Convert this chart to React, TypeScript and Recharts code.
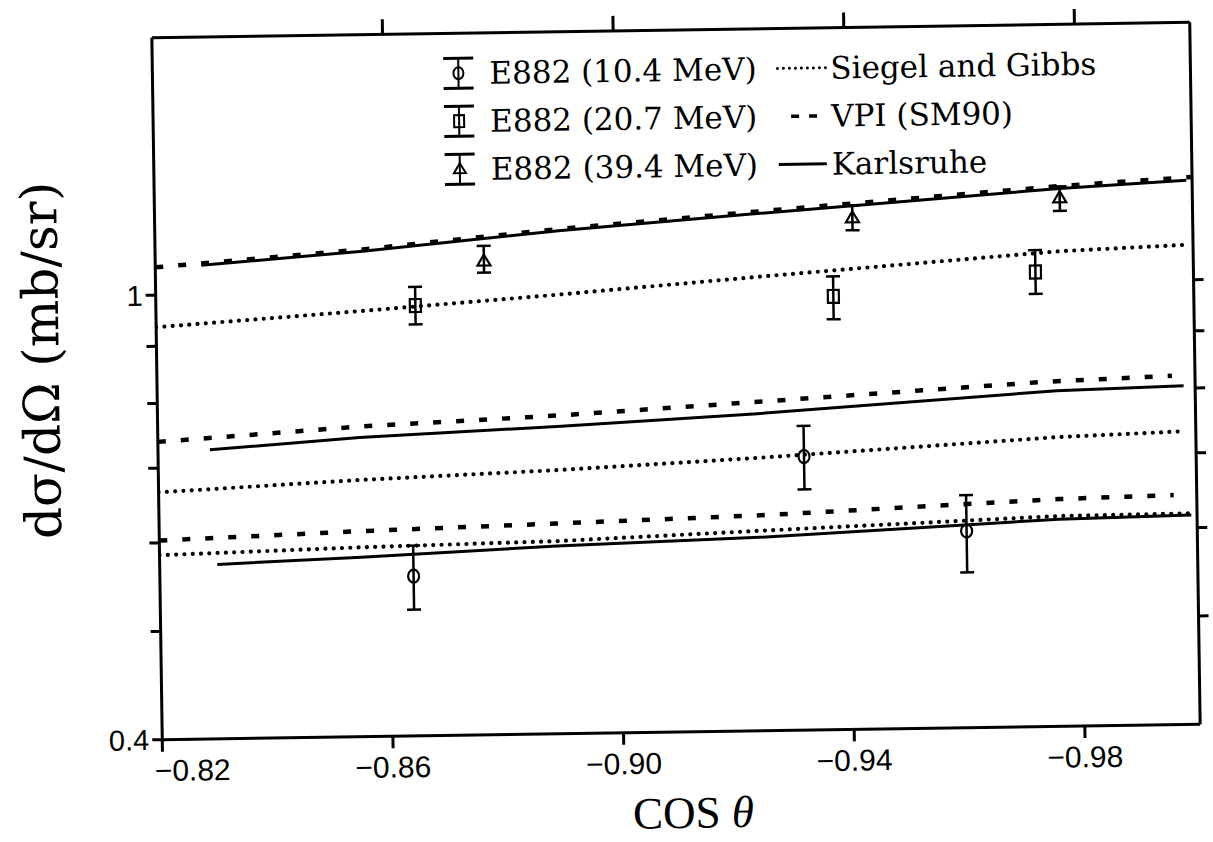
import React from 'react';
import {
  ComposedChart,
  Line,
  Scatter,
  ErrorBar,
  XAxis,
  YAxis,
  Legend
} from 'recharts';

// theory curves (cos theta, dsigma/dOmega in mb/sr)
const upperVpiX = [-0.82, -0.856, -0.89, -0.925, -0.977, -1.0];
const upperVpiY = [1.059, 1.092, 1.132, 1.167, 1.218, 1.236];
const upperKarlsruheX = [-0.828, -0.856, -0.89, -0.925, -0.977, -0.999];
const upperKarlsruheY = [1.062, 1.088, 1.128, 1.162, 1.212, 1.228];
const upperSiegelX = [-0.82, -0.856, -0.89, -0.925, -0.977, -0.999];
const upperSiegelY = [0.936, 0.962, 0.989, 1.02, 1.065, 1.075];

const middleVpiX = [-0.82, -0.855, -0.89, -0.926, -0.974, -0.996];
const middleVpiY = [0.739, 0.758, 0.771, 0.789, 0.814, 0.821];
const middleKarlsruheX = [-0.829, -0.855, -0.89, -0.924, -0.976, -0.998];
const middleKarlsruheY = [0.726, 0.741, 0.754, 0.769, 0.799, 0.804];
const middleSiegelX = [-0.82, -0.855, -0.89, -0.924, -0.976, -0.998];
const middleSiegelY = [0.666, 0.679, 0.689, 0.702, 0.726, 0.732];

const lowerVpiX = [-0.82, -0.855, -0.889, -0.926, -0.976, -0.996];
const lowerVpiY = [0.603, 0.611, 0.617, 0.624, 0.639, 0.642];
const lowerSiegelX = [-0.82, -0.855, -0.889, -0.924, -0.976, -0.999];
const lowerSiegelY = [0.585, 0.591, 0.595, 0.604, 0.617, 0.618];
const lowerKarlsruheX = [-0.83, -0.855, -0.889, -0.924, -0.976, -0.999];
const lowerKarlsruheY = [0.573, 0.579, 0.589, 0.596, 0.613, 0.616];

// E882 measurements with error bar ends
const e104X = [-0.864, -0.932, -0.96];
const e104Y = [0.556, 0.703, 0.6];
const e104Lo = [0.519, 0.657, 0.551];
const e104Hi = [0.592, 0.749, 0.646];

const e207X = [-0.865, -0.9375, -0.9726];
const e207Y = [0.971, 0.977, 1.021];
const e207Lo = [0.934, 0.932, 0.976];
const e207Hi = [1.009, 1.018, 1.068];

const e394X = [-0.877, -0.941, -0.977];
const e394Y = [1.061, 1.147, 1.188];
const e394Lo = [1.037, 1.119, 1.157];
const e394Hi = [1.096, 1.178, 1.217];

const xTicks = [-0.82, -0.86, -0.9, -0.94, -0.98];
const topTicks = [-0.86, -0.9, -0.94, -0.98];
const yTicks = [0.4, 0.5, 0.6, 0.7, 0.8, 0.9, 1];
const rightTicks = [0.5, 0.6, 0.7, 0.8, 0.9, 1];
const yLabelled = [0.4, 1];

const dataLegend = ['E882 (10.4 MeV)', 'E882 (20.7 MeV)', 'E882 (39.4 MeV)'];
const modelLegend = ['Siegel and Gibbs', 'VPI (SM90)', 'Karlsruhe'];

const serif = "'DejaVu Serif', serif";
const sans = "'Liberation Sans', Arial, sans-serif";

const toCurve = (xs: number[], ys: number[]) => xs.map((x, i) => ({ x, y: ys[i] }));
const toPoints = (xs: number[], ys: number[], lo: number[], hi: number[]) =>
  xs.map((x, i) => ({ x, y: ys[i], err: [ys[i] - lo[i], hi[i] - ys[i]] }));

const DOTTED = { strokeWidth: 4.2, strokeDasharray: '0 8.3', strokeLinecap: 'round' as const };
const DASHED = { strokeWidth: 4.5, strokeDasharray: '8 15' };
const SOLID = { strokeWidth: 3 };

const curves = [
  { key: 'upVpi', data: toCurve(upperVpiX, upperVpiY), style: DASHED },
  { key: 'upKa', data: toCurve(upperKarlsruheX, upperKarlsruheY), style: SOLID },
  { key: 'upSg', data: toCurve(upperSiegelX, upperSiegelY), style: DOTTED },
  { key: 'midVpi', data: toCurve(middleVpiX, middleVpiY), style: DASHED },
  { key: 'midKa', data: toCurve(middleKarlsruheX, middleKarlsruheY), style: SOLID },
  { key: 'midSg', data: toCurve(middleSiegelX, middleSiegelY), style: DOTTED },
  { key: 'lowVpi', data: toCurve(lowerVpiX, lowerVpiY), style: DASHED },
  { key: 'lowSg', data: toCurve(lowerSiegelX, lowerSiegelY), style: DOTTED },
  { key: 'lowKa', data: toCurve(lowerKarlsruheX, lowerKarlsruheY), style: SOLID },
];

const CircleMark = ({ cx, cy }: any) => (
  <ellipse cx={cx} cy={cy} rx={5.5} ry={6.5} fill="none" stroke="#000" strokeWidth={2.2} />
);
const SquareMark = ({ cx, cy }: any) => (
  <rect x={cx - 5.5} y={cy - 6.5} width={11} height={13} fill="none" stroke="#000" strokeWidth={2.2} />
);
const TriangleMark = ({ cx, cy }: any) => (
  <polygon points={`${cx},${cy - 7} ${cx + 6.5},${cy + 4} ${cx - 6.5},${cy + 4}`} fill="none" stroke="#000" strokeWidth={2.2} />
);

const markShapes = [CircleMark, SquareMark, TriangleMark];

const XTick = ({ x, y, payload }: any) => {
  const first = payload.value === -0.82;
  return (
    <text
      x={first ? x - 8 : x}
      y={y}
      dy="0.71em"
      textAnchor={first ? 'start' : 'middle'}
      fontFamily={sans}
      fontSize={30}
      fill="#000"
    >
      {'\u2212' + Math.abs(payload.value).toFixed(2)}
    </text>
  );
};

const YTitle = ({ viewBox }: any) => {
  const cx = viewBox.x - 55;
  const cy = viewBox.y + viewBox.height / 2 - 30;
  return (
    <text
      x={cx}
      y={cy}
      transform={`rotate(-90, ${cx}, ${cy})`}
      textAnchor="middle"
      dominantBaseline="central"
      fontFamily={serif}
      fontSize={50}
      fill="#000"
    >
      dσ/dΩ (mb/sr)
    </text>
  );
};

const XTitle = ({ viewBox }: any) => {
  const cx = viewBox.x + viewBox.width / 2 + 11;
  return (
    <text x={cx} y={viewBox.y + 96} textAnchor="middle" fontFamily="'Liberation Serif', serif" fontSize={45} fill="#000">
      COS <tspan fontStyle="italic">θ</tspan>
    </text>
  );
};

const ErrIcon = ({ kind }: { kind: number }) => (
  <svg width={36} height={34}>
    <line x1={3} y1={2} x2={33} y2={2} stroke="#000" strokeWidth={3} />
    <line x1={3} y1={32} x2={33} y2={32} stroke="#000" strokeWidth={3} />
    <line x1={18} y1={2} x2={18} y2={32} stroke="#000" strokeWidth={2} />
    {kind === 0 && <ellipse cx={18} cy={17} rx={5} ry={6} fill="none" stroke="#000" strokeWidth={2} />}
    {kind === 1 && <rect x={13} y={11} width={10} height={12} fill="none" stroke="#000" strokeWidth={2} />}
    {kind === 2 && <polygon points="18,11 24,21 12,21" fill="none" stroke="#000" strokeWidth={2} />}
  </svg>
);

const LineIcon = ({ kind }: { kind: number }) => (
  <svg width={55} height={12}>
    {kind === 0 && <line x1={2} y1={6} x2={52} y2={6} stroke="#000" strokeWidth={3} strokeDasharray="0 6" strokeLinecap="round" />}
    {kind === 1 && <line x1={15} y1={6} x2={44} y2={6} stroke="#000" strokeWidth={3.5} strokeDasharray="8 10" />}
    {kind === 2 && <line x1={2} y1={6} x2={50} y2={6} stroke="#000" strokeWidth={3} />}
  </svg>
);

const LegendBox = () => (
  <div style={{ display: 'grid', gridTemplateColumns: '335px auto', fontFamily: serif, fontSize: 31, color: '#000' }}>
    {dataLegend.map((label, i) => (
      <React.Fragment key={label}>
        <div style={{ display: 'flex', alignItems: 'center', height: 48 }}>
          <ErrIcon kind={i} />
          <span style={{ marginLeft: 13, whiteSpace: 'nowrap' }}>{label}</span>
        </div>
        <div style={{ display: 'flex', alignItems: 'center', height: 48 }}>
          <LineIcon kind={i} />
          <span style={{ whiteSpace: 'nowrap' }}>{modelLegend[i]}</span>
        </div>
      </React.Fragment>
    ))}
  </div>
);

export default function App() {
  const pointSets = [
    toPoints(e104X, e104Y, e104Lo, e104Hi),
    toPoints(e207X, e207Y, e207Lo, e207Hi),
    toPoints(e394X, e394Y, e394Lo, e394Hi),
  ];

  return (
    <div style={{ width: 1213, height: 842, overflow: 'hidden', background: '#fff' }}>
      <style>{'body { margin: 0; }'}</style>
      {/* the scanned figure sits slightly tilted on the page */}
      <div style={{ width: 1213, height: 842, transform: 'rotate(-0.85deg)', transformOrigin: '676px 381px' }}>
        <ComposedChart width={1213} height={842} margin={{ top: 10, right: 0, bottom: 50, left: 97 }}>
          <XAxis
            xAxisId="bottom"
            type="number"
            dataKey="x"
            domain={[-1, -0.82]}
            reversed
            allowDataOverflow
            ticks={xTicks}
            height={60}
            tickSize={12}
            tickMargin={8}
            stroke="#000"
            strokeWidth={3}
            tick={<XTick />}
            label={{ content: XTitle }}
          />
          <XAxis
            xAxisId="top"
            orientation="top"
            type="number"
            dataKey="x"
            domain={[-1, -0.82]}
            reversed
            allowDataOverflow
            ticks={topTicks}
            height={20}
            tickSize={15}
            tickFormatter={() => ''}
            stroke="#000"
            strokeWidth={3}
          />
          <YAxis
            yAxisId="left"
            type="number"
            scale="log"
            domain={[0.4, 1.7]}
            allowDataOverflow
            ticks={yTicks}
            width={60}
            tickSize={10}
            tickMargin={3}
            stroke="#000"
            strokeWidth={3}
            tickFormatter={(v: number) => (yLabelled.includes(v) ? String(v) : '')}
            tick={{ fontFamily: sans, fontSize: 29, fill: '#000' }}
            label={{ content: YTitle }}
          />
          <YAxis
            yAxisId="right"
            orientation="right"
            type="number"
            scale="log"
            domain={[0.4, 1.7]}
            allowDataOverflow
            ticks={rightTicks}
            width={18}
            tickSize={10}
            stroke="#000"
            strokeWidth={3}
            tickFormatter={() => ''}
          />
          <Legend
            layout="horizontal"
            verticalAlign="middle"
            align="center"
            wrapperStyle={{ position: 'absolute', top: 46, left: 445, width: 'auto' }}
            content={() => <LegendBox />}
          />
          {curves.map((c) => (
            <Line
              key={c.key}
              xAxisId="bottom"
              yAxisId="left"
              data={c.data}
              dataKey="y"
              type="linear"
              stroke="#000"
              dot={false}
              activeDot={false}
              isAnimationActive={false}
              {...c.style}
            />
          ))}
          {pointSets.map((pts, i) => (
            <Scatter
              key={'pts' + i}
              xAxisId="bottom"
              yAxisId="left"
              data={pts}
              dataKey="y"
              shape={markShapes[i]}
              isAnimationActive={false}
            >
              <ErrorBar dataKey="err" direction="y" width={7} stroke="#000" strokeWidth={2.5} isAnimationActive={false} />
            </Scatter>
          ))}
        </ComposedChart>
      </div>
    </div>
  );
}
